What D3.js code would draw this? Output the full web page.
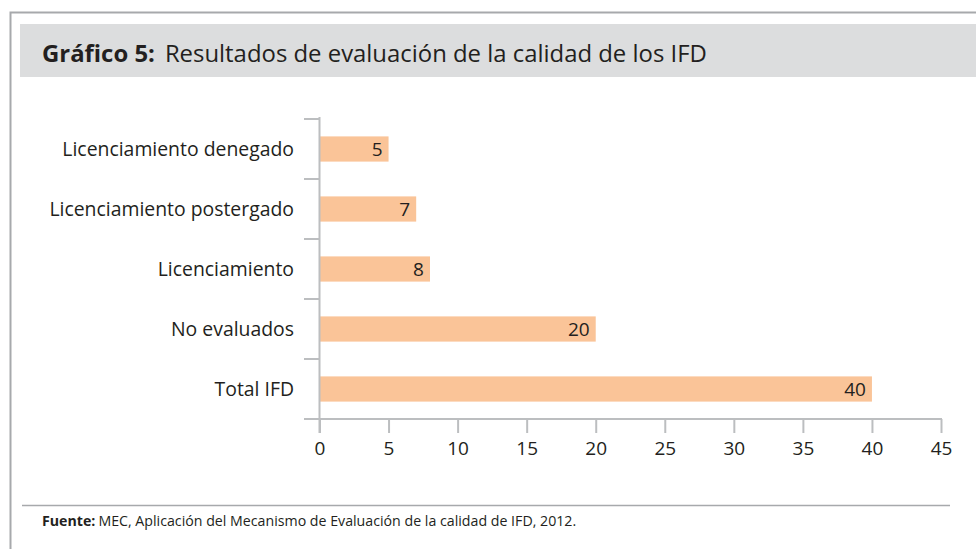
<!DOCTYPE html>
<html>
<head>
<meta charset="utf-8">
<script src="https://cdn.jsdelivr.net/npm/d3@7"></script>
<style>
  body { margin: 0; background: #fff; }
  text { font-family: "Open Sans", sans-serif; fill: #231f20; }
</style>
</head>
<body>
<svg width="976" height="549"></svg>
<script>
// data
var categories = ["Licenciamiento denegado", "Licenciamiento postergado", "Licenciamiento", "No evaluados", "Total IFD"];
var values = [5, 7, 8, 20, 40];
var xTicks = [0, 5, 10, 15, 20, 25, 30, 35, 40, 45];

var svg = d3.select("svg"),
    width = +svg.attr("width"),
    height = +svg.attr("height");

// frame + header band
svg.append("path")
    .attr("d", "M10.5," + height + "V12.5H" + width)
    .attr("fill", "none")
    .attr("stroke", "#a7a9ac")
    .attr("stroke-width", 2);

svg.append("rect")
    .attr("x", 20).attr("y", 24)
    .attr("width", width - 20).attr("height", 53)
    .attr("fill", "#dcddde");

var title = svg.append("text")
    .attr("x", 42).attr("y", 62)
    .attr("font-size", 23.9);
title.append("tspan").attr("font-weight", "bold").text("Gráfico 5:");
title.append("tspan").attr("dx", 10).text("Resultados de evaluación de la calidad de los IFD");

// scales
var x = d3.scaleLinear().domain([0, 45]).range([319.5, 941]);
var y = d3.scaleBand().domain(categories).range([119, 419]).paddingInner(0.58).paddingOuter(0.29);

var axisColor = "#bcbec0";

// bars
svg.append("g").selectAll("rect")
    .data(values)
    .enter().append("rect")
    .attr("x", x(0))
    .attr("y", (d, i) => y(categories[i]))
    .attr("width", d => x(d) - x(0))
    .attr("height", y.bandwidth())
    .attr("fill", "#fac498");

// value labels
svg.append("g").selectAll("text")
    .data(values)
    .enter().append("text")
    .attr("x", d => x(d) - 6)
    .attr("y", (d, i) => y(categories[i]) + y.bandwidth() / 2)
    .attr("dy", "0.35em")
    .attr("text-anchor", "end")
    .attr("font-size", 19)
    .text(d => d);

// y axis: line + boundary ticks
var yg = svg.append("g");
yg.append("line")
    .attr("x1", x(0)).attr("x2", x(0))
    .attr("y1", 117).attr("y2", 433)
    .attr("stroke", axisColor).attr("stroke-width", 2);
var step = y.step();
var bounds = d3.range(categories.length).map(i => 119 + i * step);
yg.selectAll("line.tick")
    .data(bounds)
    .enter().append("line")
    .attr("class", "tick")
    .attr("x1", 304).attr("x2", x(0))
    .attr("y1", d => d).attr("y2", d => d)
    .attr("stroke", axisColor).attr("stroke-width", 2);
yg.selectAll("text")
    .data(categories)
    .enter().append("text")
    .attr("x", 294)
    .attr("y", d => y(d) + y.bandwidth() / 2)
    .attr("dy", "0.35em")
    .attr("text-anchor", "end")
    .attr("font-size", 19.4)
    .text(d => d);

// x axis
var xAxis = d3.axisBottom(x).tickValues(xTicks).tickSize(14).tickPadding(9).tickSizeOuter(0);
var xg = svg.append("g")
    .attr("transform", "translate(0,419)")
    .call(xAxis);
xg.select(".domain").remove();
xg.append("line")
    .attr("x1", 304).attr("x2", x(45) + 1)
    .attr("stroke", axisColor).attr("stroke-width", 2);
xg.selectAll(".tick line").attr("stroke", axisColor).attr("stroke-width", 2);
xg.selectAll(".tick text")
    .attr("font-family", "'Open Sans', sans-serif")
    .attr("font-size", 19)
    .attr("fill", "#231f20");

// footer
svg.append("line")
    .attr("x1", 22).attr("x2", 950)
    .attr("y1", 505.5).attr("y2", 505.5)
    .attr("stroke", "#a7a9ac").attr("stroke-width", 1.5);

var foot = svg.append("text")
    .attr("x", 42).attr("y", 526)
    .attr("font-size", 14.2);
foot.append("tspan").attr("font-weight", "bold").text("Fuente:");
foot.append("tspan").attr("dx", 3).text("MEC, Aplicación del Mecanismo de Evaluación de la calidad de IFD, 2012.");
</script>
</body>
</html>
